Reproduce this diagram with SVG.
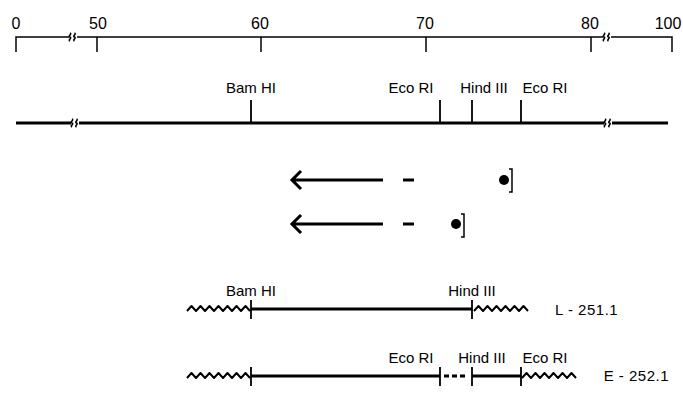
<svg xmlns="http://www.w3.org/2000/svg" width="683" height="408" viewBox="0 0 683 408">
<style>
text{font-family:"Liberation Sans","DejaVu Sans",sans-serif;fill:#000}
.lbl{font-size:15px}
.sc{font-size:16px}
.id{font-size:15px;letter-spacing:0.5px}
.thin{stroke:#000;stroke-width:1.5;fill:none}
.thick{stroke:#000;stroke-width:3;fill:none}
.tick{stroke:#000;stroke-width:1.8;fill:none}
.zig{stroke:#000;stroke-width:2;fill:none;stroke-linejoin:round}
.brk{stroke:#000;stroke-width:1.6;fill:none}
</style>
<defs>
<g id="brk">
<rect x="-4" y="-5" width="8" height="10" fill="#fff"/>
<path class="brk" d="M-3,-4 c2.5,1 -2.5,3 0,4 c2.5,1 -2.5,3 0,4"/>
<path class="brk" d="M1.5,-4 c2.5,1 -2.5,3 0,4 c2.5,1 -2.5,3 0,4"/>
</g>
</defs>

<g id="scale">
<path class="thin" d="M16,52 V37 H672 V52 M97,37 V52 M261,37 V52 M426,37 V52 M591,37 V52"/>
<use href="#brk" x="73" y="37"/>
<use href="#brk" x="607" y="37"/>
<text class="sc" x="16" y="29" text-anchor="middle">0</text>
<text class="sc" x="98" y="29" text-anchor="middle">50</text>
<text class="sc" x="260" y="29" text-anchor="middle">60</text>
<text class="sc" x="425" y="29" text-anchor="middle">70</text>
<text class="sc" x="590" y="29" text-anchor="middle">80</text>
<text class="sc" x="668" y="29" text-anchor="middle">100</text>
</g>

<g id="map">
<path class="thick" d="M16,123 H668"/>
<path class="tick" d="M251,100 V123 M440,100 V123 M472,100 V123 M521,100 V123"/>
<use href="#brk" x="75" y="123"/>
<use href="#brk" x="608" y="123"/>
<text class="lbl" x="251" y="93" text-anchor="middle">Bam HI</text>
<text class="lbl" x="411" y="93" text-anchor="middle">Eco RI</text>
<text class="lbl" x="484" y="93" text-anchor="middle">Hind III</text>
<text class="lbl" x="545" y="93" text-anchor="middle">Eco RI</text>
</g>

<g id="transcript1">
<path class="thick" d="M292,180 H383 M301,171 L292,180 L301,189" stroke-width="2.5"/>
<path class="thick" d="M403,180 H414"/>
<circle cx="504" cy="180" r="5"/>
<path class="thin" d="M509,169 H512 V192 H509" stroke-width="2"/>
</g>

<g id="transcript2">
<path class="thick" d="M292,224 H383 M301,215 L292,224 L301,233" stroke-width="2.5"/>
<path class="thick" d="M403,224 H414"/>
<circle cx="456" cy="224" r="5"/>
<path class="thin" d="M461,214 H464 V237 H461" stroke-width="2"/>
</g>

<g id="L-251.1">
<path class="zig" d="M187,311 l4.5,-5 l4.5,5 l4.5,-5 l4.5,5 l4.5,-5 l4.5,5 l4.5,-5 l4.5,5 l4.5,-5 l4.5,5 l4.5,-5 l4.5,5 l4.5,-5 l4.5,5"/>
<path class="zig" d="M474,311 l4.5,-5 l4.5,5 l4.5,-5 l4.5,5 l4.5,-5 l4.5,5 l4.5,-5 l4.5,5 l4.5,-5 l4.5,5 l4.5,-5 l4.5,5"/>
<path class="thick" d="M251,309 H472"/>
<path class="tick" d="M251,300 V319 M472,300 V319"/>
<text class="lbl" x="251" y="296" text-anchor="middle">Bam HI</text>
<text class="lbl" x="472" y="296" text-anchor="middle">Hind III</text>
<text class="id" x="555" y="315">L - 251.1</text>
</g>

<g id="E-252.1">
<path class="zig" d="M187,378 l4.5,-5 l4.5,5 l4.5,-5 l4.5,5 l4.5,-5 l4.5,5 l4.5,-5 l4.5,5 l4.5,-5 l4.5,5 l4.5,-5 l4.5,5 l4.5,-5 l4.5,5"/>
<path class="zig" d="M522,378 l4.5,-5 l4.5,5 l4.5,-5 l4.5,5 l4.5,-5 l4.5,5 l4.5,-5 l4.5,5 l4.5,-5 l4.5,5 l4.5,-5 l4.5,5"/>
<path class="thick" d="M251,376 H440 M472,376 H521"/>
<path class="thick" d="M444,376 H468" stroke-dasharray="5,3" stroke-width="2"/>
<path class="tick" d="M251,367 V386 M440,367 V386 M472,367 V386 M521,367 V386"/>
<text class="lbl" x="411" y="363" text-anchor="middle">Eco RI</text>
<text class="lbl" x="482" y="363" text-anchor="middle">Hind III</text>
<text class="lbl" x="545" y="363" text-anchor="middle">Eco RI</text>
<text class="id" x="669" y="381" text-anchor="end">E - 252.1</text>
</g>
</svg>
